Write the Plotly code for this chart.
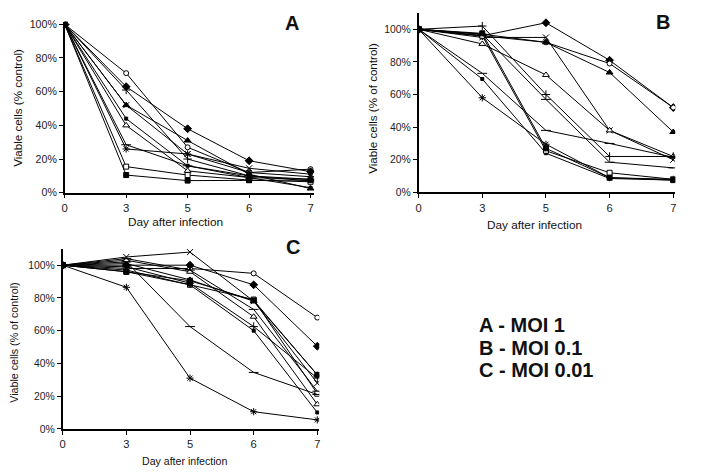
import plotly.graph_objects as go

# page body has an 8px margin; the figure is placed inside it
OFF = 8
W, H = 704 - OFF, 475 - OFF
days = ["0", "3", "5", "6", "7"]
yticks = [0, 20, 40, 60, 80, 100]

# ---- Panel A (MOI 1) ----
a_circle_open = [100, 71, 27, 12, 14]
a_diamond = [100, 63, 38, 19, 12.5]
a_triangle = [100, 52, 31, 11, 2.5]
a_x = [100, 52, 23, 14.5, 11]
a_triangle_open = [100, 40, 13, 9, 8]
a_dash = [100, 28.5, 16, 10, 7]
a_asterisk = [100, 26, 23, 12, 9.5]
a_plus = [100, 61, 20, 10, 8]
a_square_open = [100, 15.5, 10.5, 7.5, 6.5]
a_square = [100, 10.5, 7.2, 7.5, 7.5]
a_dot = [100, 44, 16, 9, 3]

# ---- Panel B (MOI 0.1) ----
b_diamond = [100, 96, 104, 81, 52]
b_circle_open = [100, 96, 92, 79, 52]
b_triangle = [100, 97, 92, 73.5, 37]
b_x = [100, 95, 95, 38, 20]
b_triangle_open = [100, 91, 72, 38, 22]
b_plus = [100, 102, 60, 22, 22]
b_dash = [100, 73, 38, 30, 21.5]
b_dash2 = [100, 97, 57, 18.5, 15]
b_asterisk = [100, 58, 29.5, 9, 8]
b_dot = [100, 69.5, 24, 8.5, 7.5]
b_square_open = [100, 96, 25.5, 12, 8]
b_square = [100, 97.5, 27, 9, 7.5]

# ---- Panel C (MOI 0.01) ----
c_circle_open = [100, 98, 98, 95, 68]
c_diamond = [100, 100, 100, 88, 50.5]
c_triangle = [100, 101, 91, 78, 33]
c_x = [100, 105, 108, 78, 28]
c_triangle_open = [100, 103, 96, 68.5, 15]
c_plus = [100, 99, 89, 62.5, 31]
c_dash = [100, 104, 97, 73, 23]
c_square_open = [100, 96, 88, 79, 21.5]
c_square = [100, 96, 90.5, 78.5, 33]
c_dash2 = [100, 102, 62.5, 34.5, 21]
c_asterisk = [100, 86.5, 31, 10.5, 5.5]
c_dot = [100, 97, 88, 60, 10]

# marker styles: (symbol, fill, size)
STY = {
    "circle_open": ("circle", "white", 5),
    "diamond": ("diamond", "black", 6),
    "triangle": ("triangle-up", "black", 6),
    "triangle_open": ("triangle-up", "white", 6),
    "square_open": ("square", "white", 5),
    "square": ("square", "black", 5),
    "x": ("x-thin", "black", 6),
    "asterisk": ("asterisk", "black", 6),
    "plus": ("cross-thin", "black", 6),
    "dash": ("line-ew", "black", 7),
    "dot": ("square", "black", 3),
}

panels = {
    "A": [("circle_open", a_circle_open), ("diamond", a_diamond), ("triangle", a_triangle),
          ("x", a_x), ("triangle_open", a_triangle_open), ("dash", a_dash),
          ("asterisk", a_asterisk), ("plus", a_plus), ("square_open", a_square_open),
          ("square", a_square), ("dot", a_dot)],
    "B": [("diamond", b_diamond), ("circle_open", b_circle_open), ("triangle", b_triangle),
          ("x", b_x), ("triangle_open", b_triangle_open), ("plus", b_plus), ("dash", b_dash),
          ("dash", b_dash2), ("asterisk", b_asterisk), ("dot", b_dot),
          ("square_open", b_square_open), ("square", b_square)],
    "C": [("circle_open", c_circle_open), ("diamond", c_diamond), ("triangle", c_triangle),
          ("x", c_x), ("triangle_open", c_triangle_open), ("plus", c_plus), ("dash", c_dash),
          ("square_open", c_square_open), ("square", c_square), ("dash", c_dash2),
          ("asterisk", c_asterisk), ("dot", c_dot)],
}

# layout geometry in page pixels
geo = {
    "A": dict(x0=62, x1=313, xr=4.06, ybot=192.7, ytop=18, yr=101.5, ax="", fs=10.6),
    "B": dict(x0=418, x1=676, xr=4.03, ybot=192.3, ytop=9, yr=110, ax="2", fs=10.4),
    "C": dict(x0=60, x1=318, xr=4.03, ybot=434, ytop=250, yr=110, ax="3", fs=10.4),
}

def px(x):
    return (x - OFF) / W

def py(y):
    return 1 - (y - OFF) / H

fig = go.Figure()
xs = list(range(len(days)))
for name, series in panels.items():
    g = geo[name]
    for key, vals in series:
        sym, fill, size = STY[key]
        fig.add_trace(go.Scatter(
            x=xs, y=vals, mode="lines+markers",
            xaxis="x" + g["ax"], yaxis="y" + g["ax"],
            line=dict(color="black", width=1),
            marker=dict(symbol=sym, color=fill, size=size,
                        line=dict(color="black", width=1)),
            showlegend=False, hoverinfo="skip"))

layout = dict(width=W, height=H, margin=dict(l=0, r=0, t=0, b=0),
              paper_bgcolor="white", plot_bgcolor="white", showlegend=False,
              font=dict(family="Liberation Sans, Arial", color="#222"))
for name, g in geo.items():
    ax = g["ax"]
    layout["xaxis" + ax] = dict(
        domain=[px(g["x0"]), px(g["x1"])], range=[0, g["xr"]],
        anchor="y" + ax, tickmode="array", tickvals=xs, ticktext=days,
        showline=True, linecolor="black", linewidth=1.5, ticks="outside",
        ticklen=4, tickcolor="black", showgrid=False, zeroline=False,
        tickfont=dict(size=g["fs"] + 0.8))
    layout["yaxis" + ax] = dict(
        domain=[py(g["ybot"]), py(g["ytop"])], range=[0, g["yr"]],
        anchor="x" + ax, tickmode="array", tickvals=yticks,
        ticktext=[f"{v}%" for v in yticks],
        showline=True, linecolor="black", linewidth=1.5, ticks="outside",
        ticklen=4, tickcolor="black", showgrid=False, zeroline=False,
        tickfont=dict(size=g["fs"]))
fig.update_layout(**layout)

def ann(text, x, y, size, bold=False, angle=0, xanchor="center"):
    fig.add_annotation(text=f"<b>{text}</b>" if bold else text,
                       x=px(x), y=py(y), xref="paper", yref="paper",
                       showarrow=False, textangle=angle, xanchor=xanchor,
                       yanchor="middle", font=dict(size=size, color="#111"))

ann("A", 291, 19, 20, bold=True)
ann("B", 664, 18, 20, bold=True)
ann("C", 292, 248, 20, bold=True)
ann("Viable cells (% control)", 15, 106, 11.6, angle=-90)
ann("Viable cells (% of control)", 372, 106, 11.6, angle=-90)
ann("Viable cells (% of control)", 11, 346, 10.7, angle=-90)
ann("Day after infection", 173, 223, 11.8)
ann("Day after infection", 535, 226, 11.8)
ann("Day after infection", 183, 467, 10.6)
ann("A - MOI 1", 477, 328, 20, bold=True, xanchor="left")
ann("B - MOI 0.1", 477, 351, 20, bold=True, xanchor="left")
ann("C - MOI 0.01", 477, 374, 20, bold=True, xanchor="left")

fig.write_html("out.html")
